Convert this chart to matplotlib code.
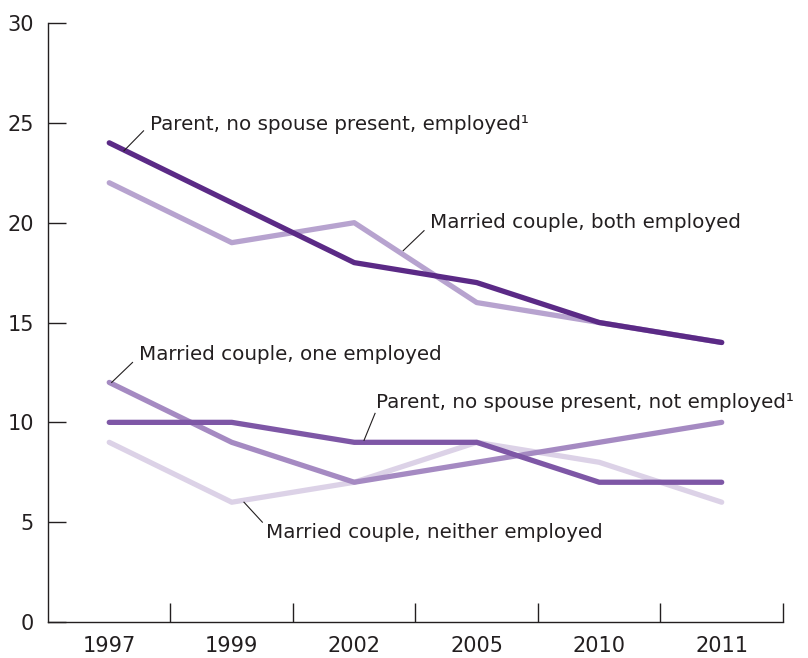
import matplotlib as mpl
mpl.use('Agg')
import matplotlib.pyplot as plt

years = ['1997', '1999', '2002', '2005', '2010', '2011']

parent_employed = [24, 21, 18, 17, 15, 14]
married_both = [22, 19, 20, 16, 15, 14]
married_one = [12, 9, 7, 8, 9, 10]
parent_not_employed = [10, 10, 9, 9, 7, 7]
married_neither = [9, 6, 7, 9, 8, 6]

labels = [
    'Parent, no spouse present, employed\u00b9',
    'Married couple, both employed',
    'Married couple, one employed',
    'Parent, no spouse present, not employed\u00b9',
    'Married couple, neither employed',
]
colors = ['#5b2a86', '#b7a3cf', '#a58ac2', '#7e57a6', '#dcd2e7']

# label text anchor and leader line (start on the line, end at the text)
label_pos = [(0.33, 24.9), (2.62, 20.0), (0.24, 13.4), (2.18, 11.0), (1.28, 4.5)]
leader = [((0.12, 23.6), (0.28, 24.6)),
          ((2.40, 18.6), (2.57, 19.6)),
          ((0.02, 12.0), (0.19, 13.0)),
          ((2.08, 9.1), (2.17, 10.45)),
          ((1.10, 6.0), (1.25, 5.0))]

fig = plt.figure(figsize=(8.08, 6.58), dpi=100)
ax = fig.add_axes([0.0594, 0.0547, 0.9096, 0.9103])

series = [parent_employed, married_both, married_one, parent_not_employed, married_neither]
x = list(range(len(years)))
# draw light ones first so dark lines sit on top
order = [4, 2, 1, 3, 0]
for i in order:
    ax.plot(x, series[i], color=colors[i], lw=3.8, solid_capstyle='round',
            solid_joinstyle='round')

for i, lab in enumerate(labels):
    tx, ty = label_pos[i]
    ax.text(tx, ty, lab, fontsize=14.3, color='#231f20', va='center', ha='left')
    (x0, y0), (x1, y1) = leader[i]
    ax.plot([x0, x1], [y0, y1], color='#231f20', lw=0.8)

ax.set_xlim(-0.5, 5.5)
ax.set_ylim(0, 30)
ax.spines['top'].set_visible(False)
ax.spines['right'].set_visible(False)
for s in ['left', 'bottom']:
    ax.spines[s].set_color('#231f20')
    ax.spines[s].set_linewidth(1.0)

ax.set_yticks(range(0, 31, 5))
ax.tick_params(axis='y', direction='in', length=13, width=1.0, color='#231f20',
               labelsize=15, labelcolor='#231f20', pad=10)
ax.set_xticks([0.5, 1.5, 2.5, 3.5, 4.5, 5.5])
ax.set_xticklabels([])
ax.tick_params(axis='x', direction='in', length=14, width=1.0, color='#231f20')
ax.set_xticks(x, minor=True)
ax.set_xticklabels(years, minor=True)
ax.tick_params(axis='x', which='minor', length=0, labelsize=15,
               labelcolor='#231f20', pad=10)

plt.savefig('out.png', dpi=100)
